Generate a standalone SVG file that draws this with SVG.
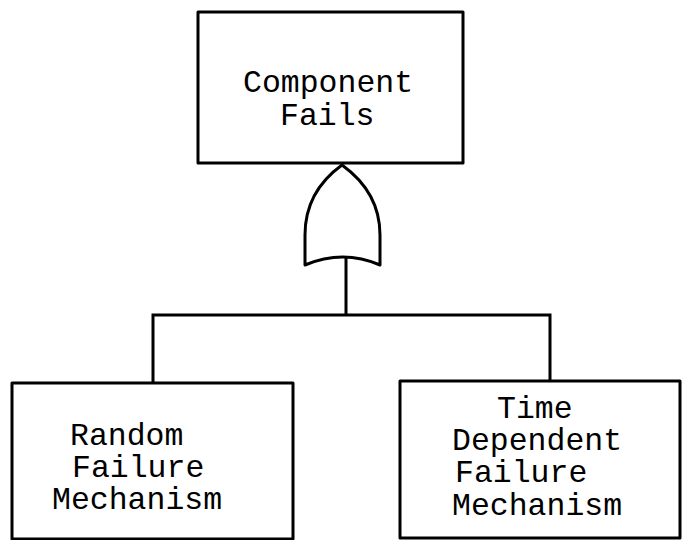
<svg xmlns="http://www.w3.org/2000/svg" width="683" height="540" viewBox="0 0 683 540">
  <style>
    .box { fill: #fff; stroke: #000; stroke-width: 3; stroke-linejoin: round; }
    .wire { fill: none; stroke: #000; stroke-width: 3; }
    .gate { fill: #fff; stroke: #000; stroke-width: 3; stroke-linejoin: round; }
    .lbl { font-family: "Liberation Mono", "Courier New", monospace; font-size: 31.5px; fill: #000; }
  </style>
  <rect width="683" height="540" fill="#fff"/>

  <!-- connectors: OR gate output stem and branches to the basic events -->
  <g id="connectors">
    <path class="wire" d="M346,257 L346,315"/>
    <path class="wire" d="M153,383 L153,315 L550,315 L550,381"/>
  </g>

  <!-- top event -->
  <g id="component-fails">
    <rect class="box" x="198" y="12" width="265" height="151"/>
    <text class="lbl" x="243" y="92">Component</text>
    <text class="lbl" x="280" y="125">Fails</text>
  </g>

  <!-- OR gate -->
  <g id="or-gate">
    <path class="gate" d="M305,265 L305,235 C305,200 324,178 342,165 C360,178 380,200 380,235 L380,265 Q343,249 305,265 Z"/>
  </g>

  <!-- basic events -->
  <g id="random-failure">
    <rect class="box" x="12" y="383" width="281" height="156"/>
    <text class="lbl" x="70" y="445">Random</text>
    <text class="lbl" x="72" y="477">Failure</text>
    <text class="lbl" x="52" y="509">Mechanism</text>
  </g>

  <g id="time-dependent-failure">
    <rect class="box" x="400" y="381" width="280" height="157"/>
    <text class="lbl" x="497" y="418">Time</text>
    <text class="lbl" x="452" y="450">Dependent</text>
    <text class="lbl" x="455" y="482">Failure</text>
    <text class="lbl" x="452" y="515">Mechanism</text>
  </g>
</svg>
